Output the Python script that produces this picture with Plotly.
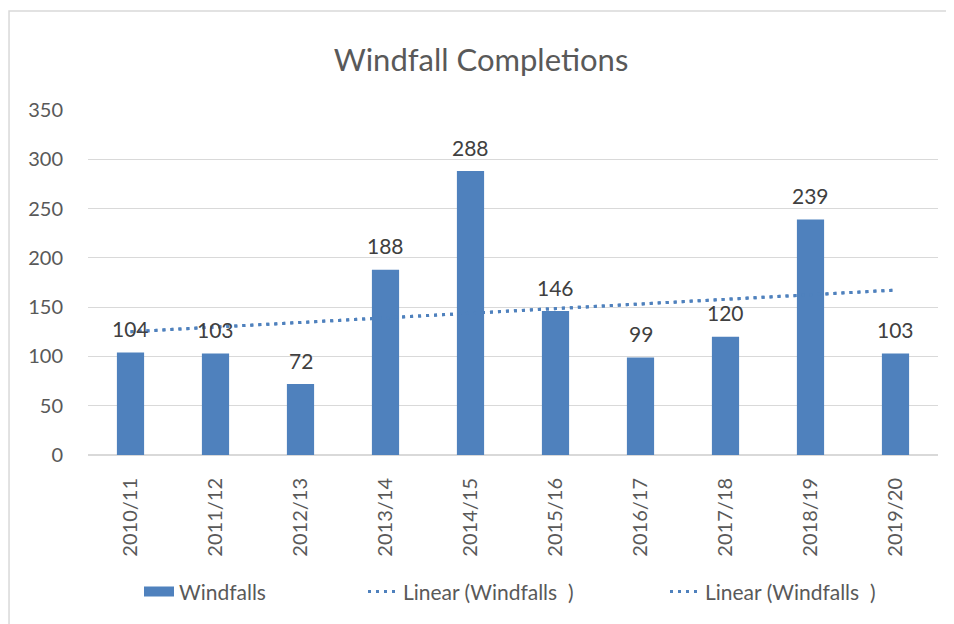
import numpy as np
import plotly.graph_objects as go

# Data
years = ["2010/11", "2011/12", "2012/13", "2013/14", "2014/15",
         "2015/16", "2016/17", "2017/18", "2018/19", "2019/20"]
windfalls = [104, 103, 72, 188, 288, 146, 99, 120, 239, 103]
y_ticks = [0, 50, 100, 150, 200, 250, 300, 350]

BLUE = "rgb(79,129,189)"
GREY_TXT = "#595959"
FONT = "Lato"

# Excel-style linear trendline fitted to the bar values
idx = np.arange(len(windfalls))
slope, intercept = np.polyfit(idx, windfalls, 1)
trend = slope * idx + intercept

fig = go.Figure()

fig.add_trace(go.Bar(
    x=years, y=windfalls, name="Windfalls",
    marker=dict(color=BLUE, line=dict(width=0)),
    width=0.32, showlegend=False, legendgroup="w",
))
# wide block legend swatch for the bars (plotly's bar swatch is a small square)
fig.add_trace(go.Scatter(
    x=[None], y=[None], mode="lines", name="Windfalls",
    line=dict(color=BLUE, width=14), legendgroup="w", legend="legend",
))

# two identical trendline entries, as in the original
for leg in ["legend2", "legend3"]:
    fig.add_trace(go.Scatter(
        x=years, y=trend, mode="lines", name="Linear (Windfalls  )",
        line=dict(color=BLUE, width=3, dash="3px,5px"), legend=leg,
    ))

# data labels above the bars
for yr, v in zip(years, windfalls):
    fig.add_annotation(x=yr, y=v, text=str(v), showarrow=False,
                       yshift=24, font=dict(family=FONT, size=21, color="#404040"))

# light frame around the chart area (bottom edge falls below the window)
fig.add_shape(type="rect", xref="paper", yref="paper",
              x0=-0.0929, x1=1.0141, y0=-0.52, y1=1.287,
              line=dict(color="#D9D9D9", width=1.5), layer="below")

leg_font = dict(family=FONT, size=21, color=GREY_TXT)
leg_y = -0.397

fig.update_layout(
    width=946, height=616,
    margin=dict(l=80, r=16, t=102, b=169),
    paper_bgcolor="white", plot_bgcolor="white",
    title=dict(text="Windfall Completions", x=0.5, xanchor="center",
               y=0.9156, yanchor="middle",
               font=dict(family=FONT, size=31, color=GREY_TXT)),
    font=dict(family=FONT, size=20, color=GREY_TXT),
    showlegend=True,
    legend=dict(orientation="h", x=0.06, xanchor="left", y=leg_y, yanchor="middle",
                font=leg_font, bgcolor="rgba(0,0,0,0)"),
    legend2=dict(orientation="h", x=0.3235, xanchor="left", y=leg_y, yanchor="middle",
                 font=leg_font, bgcolor="rgba(0,0,0,0)"),
    legend3=dict(orientation="h", x=0.6788, xanchor="left", y=leg_y, yanchor="middle",
                 font=leg_font, bgcolor="rgba(0,0,0,0)"),
)

fig.update_xaxes(tickangle=-90, showgrid=False, showline=True,
                 linecolor="#D9D9D9", linewidth=1, ticks="",
                 ticklabelstandoff=14,
                 tickfont=dict(family=FONT, size=20, color=GREY_TXT))
fig.update_yaxes(range=[0, 350], tickvals=y_ticks, showgrid=True,
                 gridcolor="#D9D9D9", gridwidth=1, zeroline=True,
                 zerolinecolor="#D9D9D9", showline=False, ticks="",
                 ticklabelstandoff=24,
                 tickfont=dict(family=FONT, size=20, color=GREY_TXT))

fig.write_html("out.html")
